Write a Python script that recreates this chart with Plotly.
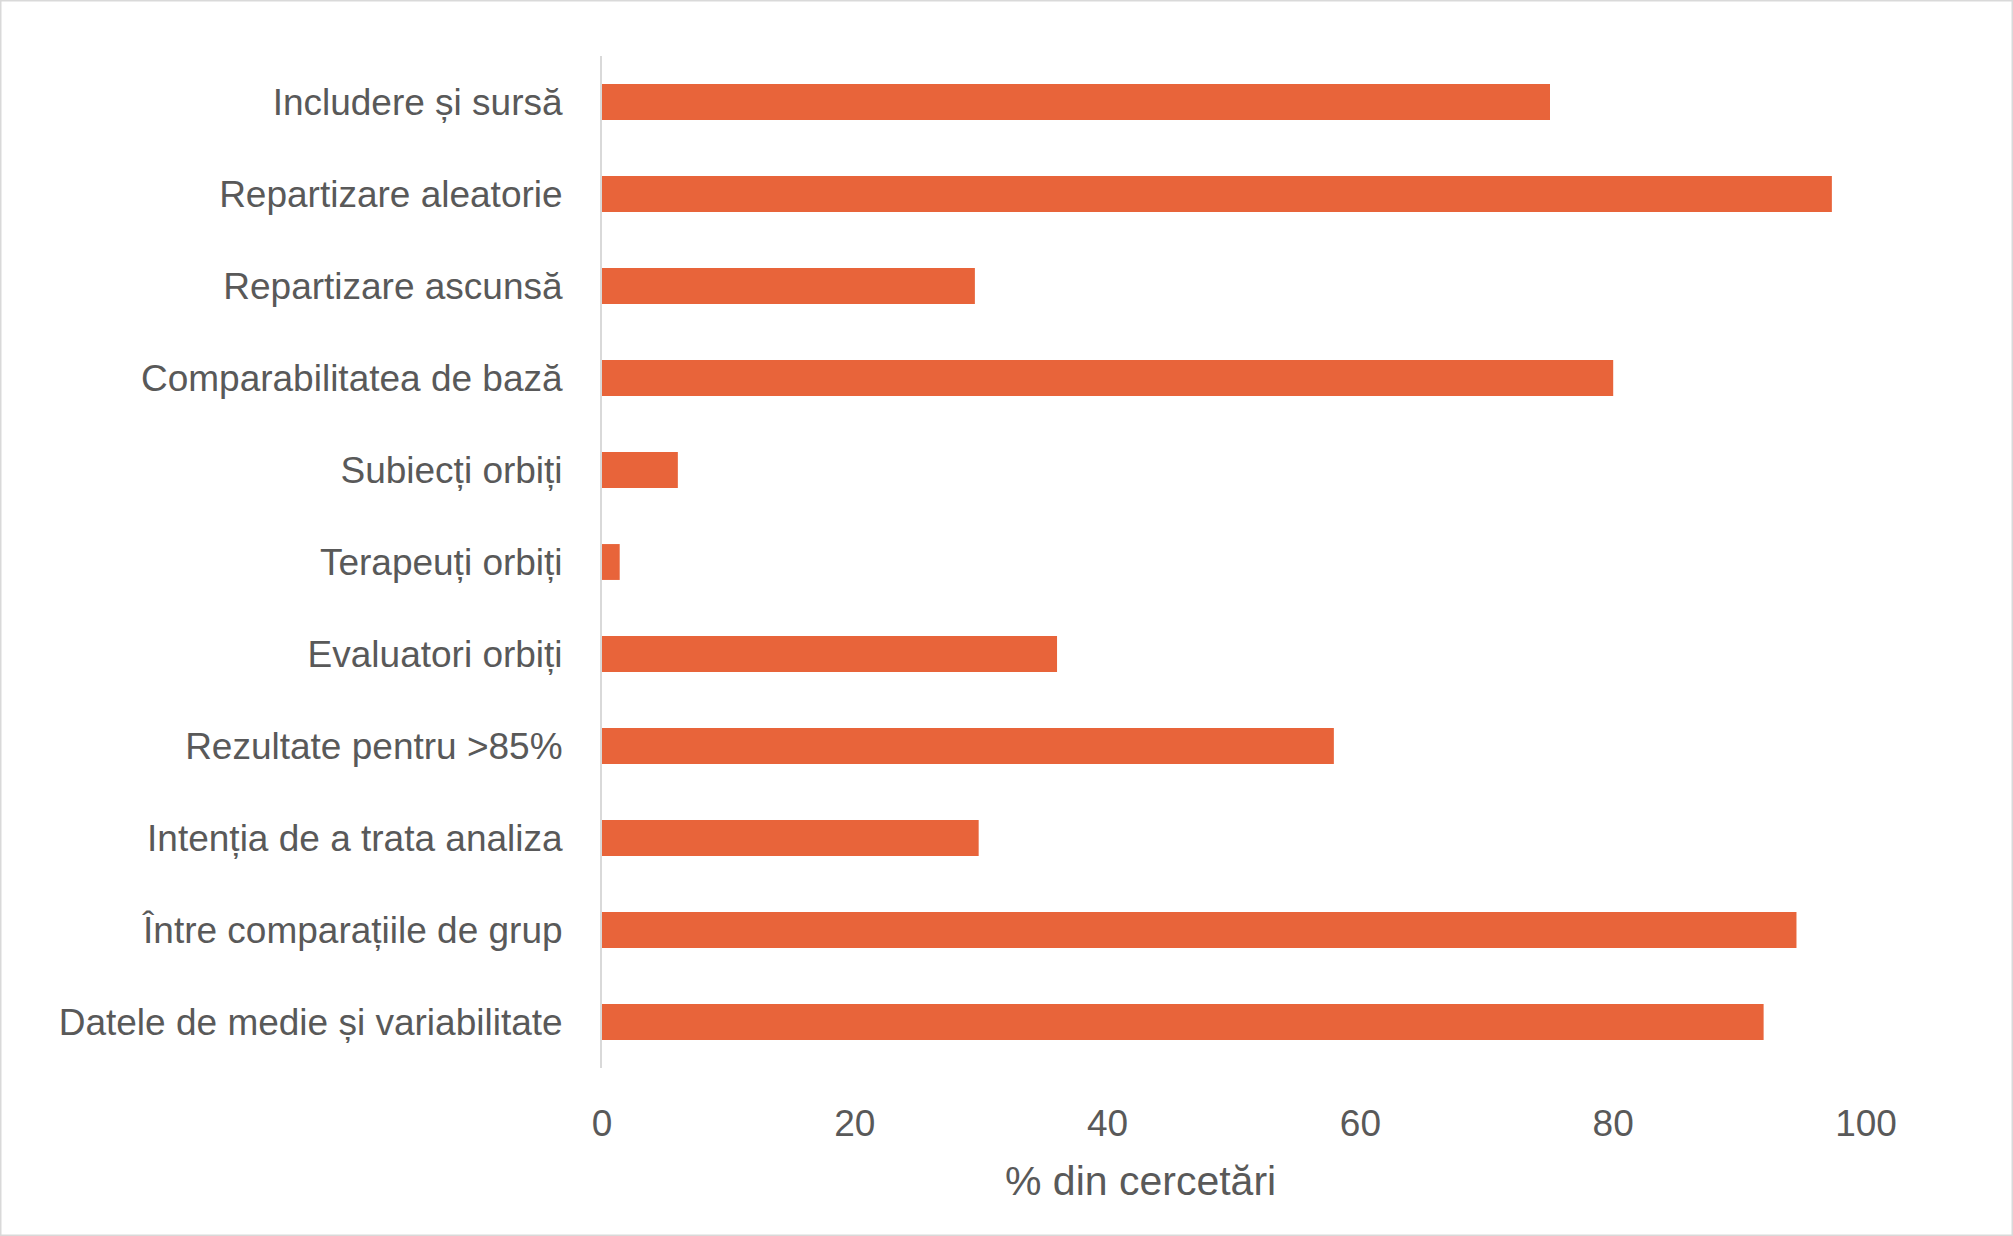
import plotly.graph_objects as go

categories = [
    "Includere și sursă",
    "Repartizare aleatorie",
    "Repartizare ascunsă",
    "Comparabilitatea de bază",
    "Subiecți orbiți",
    "Terapeuți orbiți",
    "Evaluatori orbiți",
    "Rezultate pentru >85%",
    "Intenția de a trata analiza",
    "Între comparațiile de grup",
    "Datele de medie și variabilitate",
]
values = [75, 97.3, 29.5, 80, 6, 1.4, 36, 57.9, 29.8, 94.5, 91.9]
x_ticks = [0, 20, 40, 60, 80, 100]
x_title = "% din cercetări"

W, H = 2013, 1236
L, R, T, B = 602, 147, 56, 168
pw, ph = W - L - R, H - T - B

fig = go.Figure(
    go.Bar(
        x=values,
        y=categories,
        orientation="h",
        marker=dict(color="#E8643A", line=dict(width=0)),
        hoverinfo="x+y",
    )
)

font_family = "Liberation Sans, Arial, sans-serif"
fig.update_layout(
    width=W,
    height=H,
    margin=dict(l=L, r=R, t=T, b=B, pad=0),
    paper_bgcolor="white",
    plot_bgcolor="white",
    bargap=0.61,
    showlegend=False,
    font=dict(family=font_family, color="#595959", size=37),
    xaxis=dict(
        range=[0, 100],
        tickvals=x_ticks,
        ticktext=[str(v) for v in x_ticks],
        showgrid=False,
        zeroline=False,
        showline=False,
        ticks="",
        ticklabelstandoff=30,
        tickfont=dict(size=37, color="#595959"),
    ),
    yaxis=dict(
        categoryorder="array",
        categoryarray=categories,
        autorange="reversed",
        showgrid=False,
        zeroline=False,
        showline=True,
        linecolor="#D9D9D9",
        linewidth=2,
        ticks="",
        ticklabelstandoff=30,
        tickfont=dict(size=37, color="#595959"),
    ),
    annotations=[
        dict(
            text=x_title,
            xref="paper",
            yref="paper",
            x=(1140 - L) / pw,
            y=(H - B - 1181) / ph,
            xanchor="center",
            yanchor="middle",
            showarrow=False,
            font=dict(size=41, color="#595959"),
        )
    ],
    shapes=[
        dict(
            type="rect",
            xref="paper",
            yref="paper",
            x0=-L / pw,
            x1=1 + R / pw,
            y0=-B / ph,
            y1=1 + T / ph,
            line=dict(color="#D9D9D9", width=3),
            fillcolor="rgba(0,0,0,0)",
        )
    ],
)

fig.write_html(
    "out.html",
    config={"displayModeBar": False},
    post_script="document.body.style.margin='0';document.body.style.padding='0';",
)
